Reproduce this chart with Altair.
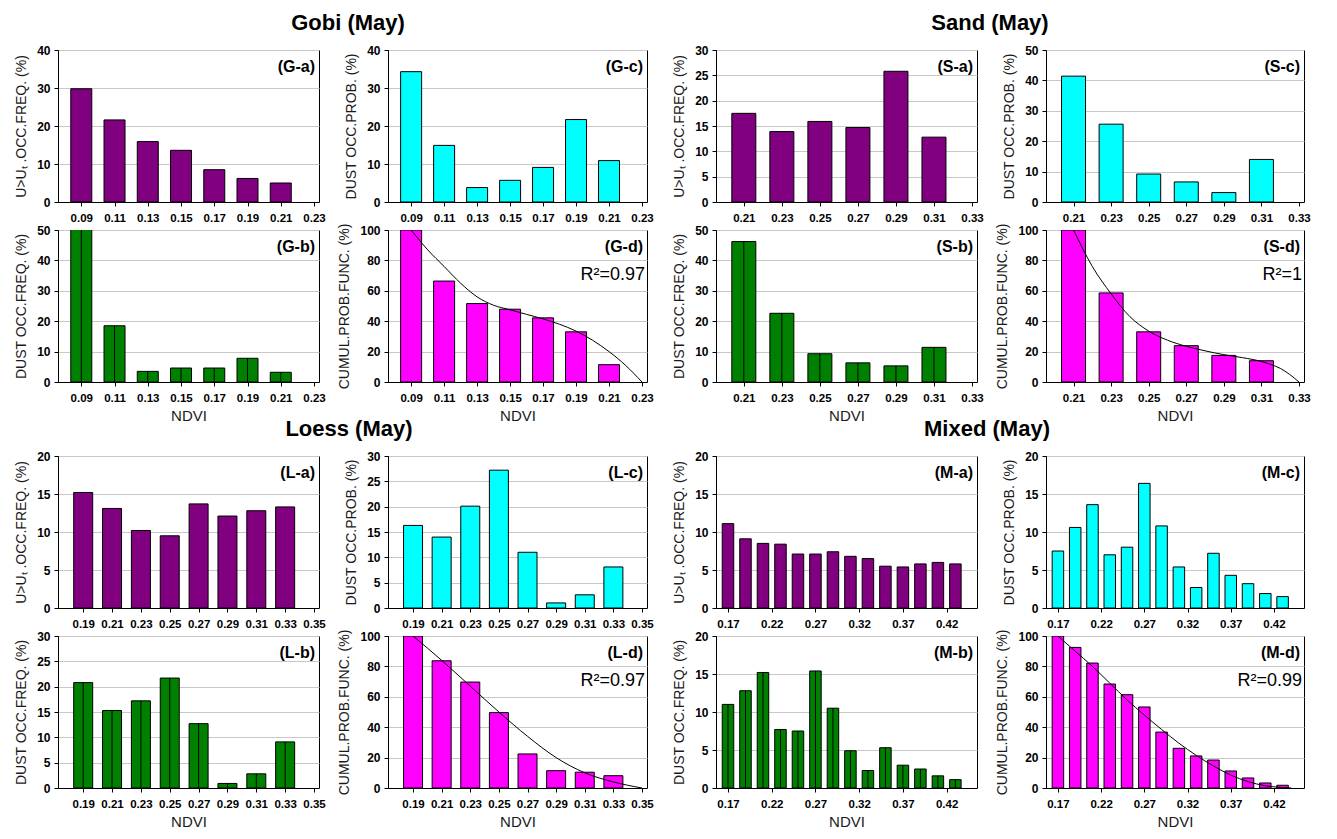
import altair as alt
import pandas as pd

FONT = "Liberation Sans"
PURPLE = "#800080"
CYAN = "#00FFFF"
GREEN = "#008000"
MAGENTA = "#FF00FF"

# ---------------- Gobi (May) ----------------
gobi_ndvi = [0.09, 0.11, 0.13, 0.15, 0.17, 0.19, 0.21]
gobi_ticks = [0.09, 0.11, 0.13, 0.15, 0.17, 0.19, 0.21, 0.23]
gobi_a = [29.8, 21.6, 15.9, 13.6, 8.5, 6.2, 5.0]
gobi_b = [57.8, 18.5, 3.5, 4.6, 4.6, 7.8, 3.2]
gobi_c = [34.3, 14.9, 3.8, 5.7, 9.1, 21.7, 10.9]
gobi_d = [100, 66.4, 51.6, 47.9, 42.2, 33.0, 11.4]
gobi_fit_ndvi = [0.09, 0.10, 0.11, 0.12, 0.13, 0.14, 0.15, 0.16, 0.17, 0.18, 0.19, 0.20, 0.21, 0.22, 0.23]
gobi_fit_cpf = [100, 87, 76, 65, 56, 50.5, 47.5, 44.5, 41.5, 38, 33.5, 27.5, 20, 11, 0]

# ---------------- Sand (May) ----------------
sand_ndvi = [0.21, 0.23, 0.25, 0.27, 0.29, 0.31]
sand_ticks = [0.21, 0.23, 0.25, 0.27, 0.29, 0.31, 0.33]
sand_a = [17.5, 13.9, 15.9, 14.7, 25.8, 12.8]
sand_b = [46.2, 22.6, 9.3, 6.3, 5.3, 11.4]
sand_c = [41.4, 25.6, 9.2, 6.6, 3.1, 14.0]
sand_d = [100, 58.6, 33.0, 23.9, 17.5, 14.0]
sand_fit_ndvi = [0.21, 0.22, 0.23, 0.24, 0.25, 0.26, 0.27, 0.28, 0.29, 0.30, 0.31, 0.315, 0.32, 0.325, 0.33]
sand_fit_cpf = [100, 76, 58, 43, 33.5, 27.5, 23.5, 20.5, 18, 16, 13.5, 11.5, 9, 5, 0]

# ---------------- Loess (May) ----------------
loess_ndvi = [0.19, 0.21, 0.23, 0.25, 0.27, 0.29, 0.31, 0.33]
loess_ticks = [0.19, 0.21, 0.23, 0.25, 0.27, 0.29, 0.31, 0.33, 0.35]
loess_a = [15.2, 13.1, 10.2, 9.5, 13.7, 12.1, 12.8, 13.3]
loess_b = [20.8, 15.3, 17.2, 21.7, 12.7, 0.9, 2.8, 9.1]
loess_c = [16.3, 14.0, 20.1, 27.2, 11.0, 1.0, 2.6, 8.1]
loess_d = [100, 83.7, 69.7, 49.6, 22.4, 11.4, 10.4, 8.1]
loess_fit_ndvi = [0.19, 0.21, 0.23, 0.25, 0.27, 0.29, 0.31, 0.33, 0.35]
loess_fit_cpf = [100, 84, 67, 50, 34, 20, 10, 4, 0]

# ---------------- Mixed (May) ----------------
mixed_ndvi = [0.17, 0.19, 0.21, 0.23, 0.25, 0.27, 0.29, 0.31, 0.33, 0.35, 0.37, 0.39, 0.41, 0.43]
mixed_ticks = [0.17, 0.22, 0.27, 0.32, 0.37, 0.42]
mixed_a = [11.1, 9.1, 8.5, 8.4, 7.1, 7.1, 7.4, 6.8, 6.5, 5.5, 5.4, 5.8, 6.0, 5.8]
mixed_b = [11.0, 12.8, 15.2, 7.7, 7.5, 15.4, 10.5, 4.9, 2.3, 5.3, 3.0, 2.5, 1.6, 1.1]
mixed_c = [7.5, 10.6, 13.6, 7.0, 8.0, 16.4, 10.8, 5.4, 2.7, 7.2, 4.3, 3.2, 1.9, 1.5]
mixed_d = [100, 92.5, 82.2, 68.4, 61.4, 53.3, 36.8, 26.1, 21.1, 18.4, 11.2, 6.6, 3.3, 1.8]
mixed_fit_ndvi = [0.17, 0.19, 0.21, 0.23, 0.25, 0.27, 0.29, 0.31, 0.33, 0.35, 0.37, 0.39, 0.41, 0.43, 0.44]
mixed_fit_cpf = [100, 90, 80, 69, 58, 48, 38.5, 29.5, 21.5, 14.5, 8.5, 4.2, 1.5, 0.3, 0]

group_titles = ["Gobi (May)", "Sand (May)", "Loess (May)", "Mixed (May)"]

T_FREQ = "U>Uₜ .OCC.FREQ. (%)"
T_DFREQ = "DUST OCC.FREQ. (%)"
T_PROB = "DUST OCC.PROB. (%)"
T_CPF = "CUMUL.PROB.FUNC. (%)"

H = 152
COLW = [261, 259, 261, 258]
SPACER_H = 18


def head_layer(text, x, y):
    return alt.Chart(pd.DataFrame({"t": [text]})).mark_text(
        font=FONT, fontSize=22, fontWeight="bold", align="center", baseline="alphabetic",
        color="black").encode(text="t:N", x=alt.value(x), y=alt.value(y))


def panel(ndvi, vals, color, ymax, ystep, xdom, xticks, bar_size, tag, ytitle, width,
          xtitle=None, fit_x=None, fit_y=None, r2=None, head=None, head_x=0, mid=False):
    yticks = list(range(0, ymax + 1, ystep))
    xenc = alt.X("ndvi:Q",
                 scale=alt.Scale(domain=xdom, nice=False, zero=False),
                 axis=alt.Axis(values=xticks, format=".2f", title=xtitle, grid=False))
    yenc = alt.Y("val:Q",
                 scale=alt.Scale(domain=[0, ymax], nice=False),
                 axis=alt.Axis(values=yticks, title=ytitle, grid=True))
    df = pd.DataFrame({"ndvi": ndvi, "val": vals})
    layers = [alt.Chart(df).mark_bar(size=bar_size, color=color, stroke="black",
                                     strokeWidth=1, clip=True).encode(x=xenc, y=yenc)]
    if mid:
        layers.append(alt.Chart(df).mark_rule(color="black", strokeWidth=1, clip=True)
                      .encode(x=xenc, y=yenc, y2=alt.datum(0)))
    if fit_x is not None:
        fdf = pd.DataFrame({"ndvi": fit_x, "val": fit_y})
        layers.append(alt.Chart(fdf).mark_line(color="black", strokeWidth=1,
                                               interpolate="monotone", clip=True)
                      .encode(x=xenc, y=yenc))
    layers.append(alt.Chart(pd.DataFrame({"t": [tag]})).mark_text(
        font=FONT, fontSize=16, fontWeight="bold", align="right", baseline="alphabetic",
        color="black").encode(text="t:N", x=alt.value(width - 4), y=alt.value(22)))
    if r2 is not None:
        layers.append(alt.Chart(pd.DataFrame({"t": [r2]})).mark_text(
            font=FONT, fontSize=18, align="right", baseline="alphabetic",
            color="black").encode(text="t:N", x=alt.value(width - 2), y=alt.value(50)))
    if head is not None:
        layers.append(head_layer(head, head_x, -20))
    return alt.layer(*layers).properties(width=width, height=H)


def spacer(width, head=None, head_x=0):
    if head is None:
        base = alt.Chart(pd.DataFrame({"t": [""]})).mark_text().encode(
            text="t:N", x=alt.value(0), y=alt.value(0))
    else:
        base = head_layer(head, head_x, SPACER_H + 8)
    return base.properties(width=width, height=SPACER_H,
                           view=alt.ViewBackground(stroke="transparent"))


GX = [0.079, 0.23]
SX = [0.198, 0.33]
LX = [0.176, 0.35]
MX = [0.162, 0.449]

ga = panel(gobi_ndvi, gobi_a, PURPLE, 40, 10, GX, gobi_ticks, 21, "(G-a)", T_FREQ, COLW[0],
           head=group_titles[0], head_x=290)
gb = panel(gobi_ndvi, gobi_b, GREEN, 50, 10, GX, gobi_ticks, 21, "(G-b)", T_DFREQ, COLW[0],
           xtitle="NDVI", mid=True)
gc = panel(gobi_ndvi, gobi_c, CYAN, 40, 10, GX, gobi_ticks, 21, "(G-c)", T_PROB, COLW[1])
gd = panel(gobi_ndvi, gobi_d, MAGENTA, 100, 20, GX, gobi_ticks, 21, "(G-d)", T_CPF, COLW[1],
           xtitle="NDVI", fit_x=gobi_fit_ndvi, fit_y=gobi_fit_cpf, r2="R²=0.97")

sa = panel(sand_ndvi, sand_a, PURPLE, 30, 5, SX, sand_ticks, 24, "(S-a)", T_FREQ, COLW[2],
           head=group_titles[1], head_x=274)
sb = panel(sand_ndvi, sand_b, GREEN, 50, 10, SX, sand_ticks, 24, "(S-b)", T_DFREQ, COLW[2],
           xtitle="NDVI", mid=True)
sc = panel(sand_ndvi, sand_c, CYAN, 50, 10, SX, sand_ticks, 24, "(S-c)", T_PROB, COLW[3])
sd = panel(sand_ndvi, sand_d, MAGENTA, 100, 20, SX, sand_ticks, 24, "(S-d)", T_CPF, COLW[3],
           xtitle="NDVI", fit_x=sand_fit_ndvi, fit_y=sand_fit_cpf, r2="R²=1")

la = panel(loess_ndvi, loess_a, PURPLE, 20, 5, LX, loess_ticks, 19, "(L-a)", T_FREQ, COLW[0])
lb = panel(loess_ndvi, loess_b, GREEN, 30, 5, LX, loess_ticks, 19, "(L-b)", T_DFREQ, COLW[0],
           xtitle="NDVI", mid=True)
lc = panel(loess_ndvi, loess_c, CYAN, 30, 5, LX, loess_ticks, 19, "(L-c)", T_PROB, COLW[1])
ld = panel(loess_ndvi, loess_d, MAGENTA, 100, 20, LX, loess_ticks, 19, "(L-d)", T_CPF, COLW[1],
           xtitle="NDVI", fit_x=loess_fit_ndvi, fit_y=loess_fit_cpf, r2="R²=0.97")

ma = panel(mixed_ndvi, mixed_a, PURPLE, 20, 5, MX, mixed_ticks, 11.5, "(M-a)", T_FREQ, COLW[2])
mb = panel(mixed_ndvi, mixed_b, GREEN, 20, 5, MX, mixed_ticks, 11.5, "(M-b)", T_DFREQ, COLW[2],
           xtitle="NDVI", mid=True)
mc = panel(mixed_ndvi, mixed_c, CYAN, 20, 5, MX, mixed_ticks, 11.5, "(M-c)", T_PROB, COLW[3])
md = panel(mixed_ndvi, mixed_d, MAGENTA, 100, 20, MX, mixed_ticks, 11.5, "(M-d)", T_CPF, COLW[3],
           xtitle="NDVI", fit_x=mixed_fit_ndvi, fit_y=mixed_fit_cpf, r2="R²=0.99")

cells = [
    ga, gc, sa, sc,
    gb, gd, sb, sd,
    spacer(COLW[0], group_titles[2], 291), spacer(COLW[1]),
    spacer(COLW[2], group_titles[3], 271), spacer(COLW[3]),
    la, lc, ma, mc,
    lb, ld, mb, md,
]

chart = alt.concat(*cells, columns=4, spacing={"row": 28, "column": 69}, bounds="flush").properties(
    padding={"left": 6, "top": 3, "right": 5, "bottom": 5}
).configure_view(
    stroke="black", strokeWidth=1
).configure_axis(
    labelFont=FONT, titleFont=FONT, labelFontWeight="bold", labelFontSize=12,
    labelColor="black", titleFontWeight="normal", titleFontSize=14, titleColor="#1a1a1a",
    domainColor="black", tickColor="black", tickSize=4, gridColor="#c8c8c8", gridWidth=1
).configure_axisX(
    labelFontSize=11.5, labelPadding=6, titlePadding=5, titleFontSize=15
).configure_axisY(
    labelPadding=4, titlePadding=8
)

chart.save("out.html", embed_options={"renderer": "svg", "actions": False})
